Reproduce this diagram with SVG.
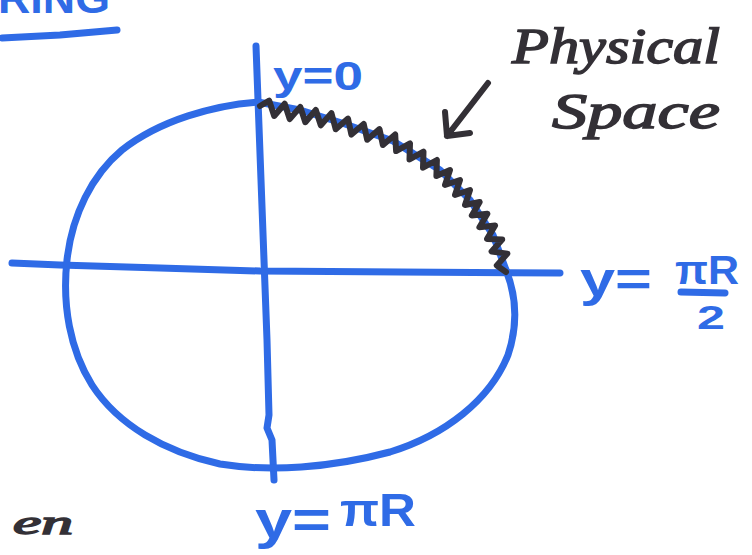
<svg xmlns="http://www.w3.org/2000/svg" width="752" height="555" viewBox="0 0 752 555">
<style>
.blue{fill:none;stroke:#2f6be6;stroke-width:7;stroke-linecap:round;stroke-linejoin:round}
.ink{fill:none;stroke:#333036;stroke-width:6;stroke-linecap:round;stroke-linejoin:round}
.bt{font-family:"Liberation Sans","DejaVu Sans",sans-serif;font-weight:bold;fill:#2f6be6}
.dt{font-family:"Liberation Serif","DejaVu Serif",serif;font-style:italic;fill:#333036;stroke:#333036;stroke-width:1.5}
</style>
<rect width="752" height="555" fill="#ffffff"/>
<g id="title">
<text class="bt" x="-2" y="13" font-size="42" textLength="112" lengthAdjust="spacingAndGlyphs">RING</text>
<path class="blue" d="M2 38 L60 35 L117 30"/>
</g>
<g id="axes">
<path class="blue" d="M12 263 L60 265 L160 268 L260 271 L400 272 L560 273"/>
<path class="blue" d="M256 46 L258 100 L261 180 L264 260 L267 340 L269 415 L267 428 L272 440 L274 480"/>
</g>
<g id="circle">
<path class="blue" d="M258 102 C215 105 160 120 122 150 C92 175 72 215 67 260 C62 305 70 350 92 385 C118 425 165 452 220 464 C270 472 330 468 390 452 C445 435 490 400 508 355 C518 325 516 295 506 270"/>
<path class="blue" d="M258 102 L300 110 L345 124 L393 141 L440 170 L470 200 L493 235 L506 270"/>
</g>
<g id="physical-space">
<polyline class="ink" points="260,106 269.2,100.7 274.2,116 284.7,103.8 289.7,119.1 300.3,106.9 305.3,122.2 315.8,110 320.8,125.3 331.4,113.1 335.7,129.3 348,118.6 351.4,134.6 363.7,123.9 367.2,139.8 379.5,129.1 382.9,145 395.2,134.4 396.1,151.1 410,143.4 409.5,159.4 423.5,151.7 423,167.7 436.9,160 436.4,176 450,170 445,185 460,180 455,195 470,190 465,205 479.7,202 471.8,215.5 487.4,213.7 479.4,227.2 495.1,225.4 487.1,238.9 502.2,239.6 491.6,251.5 507.4,253.6 496.8,265.5 506,272"/>
<path class="ink" d="M488 83 L447 136 M445 112 L447 136 L470 133"/>
<text class="dt" x="512" y="63" font-size="50" textLength="208" lengthAdjust="spacingAndGlyphs">Physical</text>
<text class="dt" x="552" y="128" font-size="50" textLength="168" lengthAdjust="spacingAndGlyphs">Space</text>
</g>
<g id="labels">
<text class="bt" x="273" y="90" font-size="40" textLength="90" lengthAdjust="spacingAndGlyphs">y=0</text>
<text class="bt" x="580" y="296" font-size="48" textLength="72" lengthAdjust="spacingAndGlyphs">y=</text>
<text class="bt" x="675" y="284" font-size="40" textLength="64" lengthAdjust="spacingAndGlyphs">πR</text>
<path class="blue" d="M681 292 L725 293" stroke-width="6"/>
<text class="bt" x="697" y="329" font-size="34" textLength="28" lengthAdjust="spacingAndGlyphs">2</text>
<text class="bt" x="255" y="538" font-size="54" textLength="76" lengthAdjust="spacingAndGlyphs">y=</text>
<text class="bt" x="340" y="526" font-size="46" textLength="76" lengthAdjust="spacingAndGlyphs">πR</text>
<text class="dt" x="13" y="534" font-size="34" textLength="60" lengthAdjust="spacingAndGlyphs">en</text>
</g>
</svg>
